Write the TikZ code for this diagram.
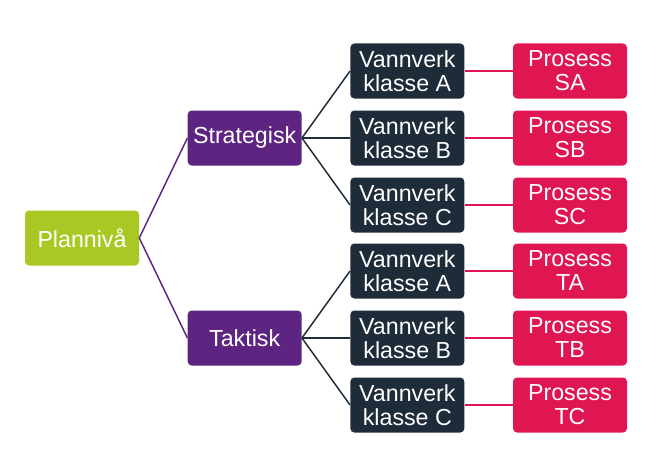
\documentclass[tikz,border=0pt]{standalone}
\usepackage{fontspec}
\setmainfont{Liberation Sans}
\usepackage{tikz}
\definecolor{plangreen}{HTML}{A9C823}
\definecolor{nivapurple}{HTML}{5E2481}
\definecolor{verknavy}{HTML}{1E2B39}
\definecolor{prosessred}{HTML}{DF1651}
\begin{document}
\begin{tikzpicture}[
    grow'=right,
    level distance=122pt,
    parent anchor=east, child anchor=west,
    box/.style={rectangle, rounded corners=3pt, minimum width=85.5pt, minimum height=41.25pt, inner sep=1pt, text=white, align=center, font=\fontsize{17.4}{18}\selectfont},
    plan/.style={box, fill=plangreen},
    niva/.style={box, fill=nivapurple},
    verk/.style={box, fill=verknavy},
    prosess/.style={box, fill=prosessred},
    level 1/.style={sibling distance=150pt, edge from parent/.style={draw=nivapurple, line width=1.1pt}},
    level 2/.style={sibling distance=50.25pt, edge from parent/.style={draw=verknavy, line width=1.1pt}},
    level 3/.style={edge from parent/.style={draw=prosessred, line width=1.1pt}}
]
\useasboundingbox (0,0) rectangle (492pt,-350.25pt);
\node[plan] (plan) at (61.5pt,-178.5pt) {Plannivå}
  child {node[niva] (strat) {Strategisk}
    child {node[verk] (sva) {Vannverk\\klasse A}
      child {node[prosess] (psa) {Prosess\\SA}}
    }
    child {node[verk] (svb) {Vannverk\\klasse B}
      child {node[prosess] (psb) {Prosess\\SB}}
    }
    child {node[verk] (svc) {Vannverk\\klasse C}
      child {node[prosess] (psc) {Prosess\\SC}}
    }
  }
  child {node[niva] (takt) {Taktisk}
    child {node[verk] (tva) {Vannverk\\klasse A}
      child {node[prosess] (pta) {Prosess\\TA}}
    }
    child {node[verk] (tvb) {Vannverk\\klasse B}
      child {node[prosess] (ptb) {Prosess\\TB}}
    }
    child {node[verk] (tvc) {Vannverk\\klasse C}
      child {node[prosess] (ptc) {Prosess\\TC}}
    }
  };
\end{tikzpicture}
\end{document}
